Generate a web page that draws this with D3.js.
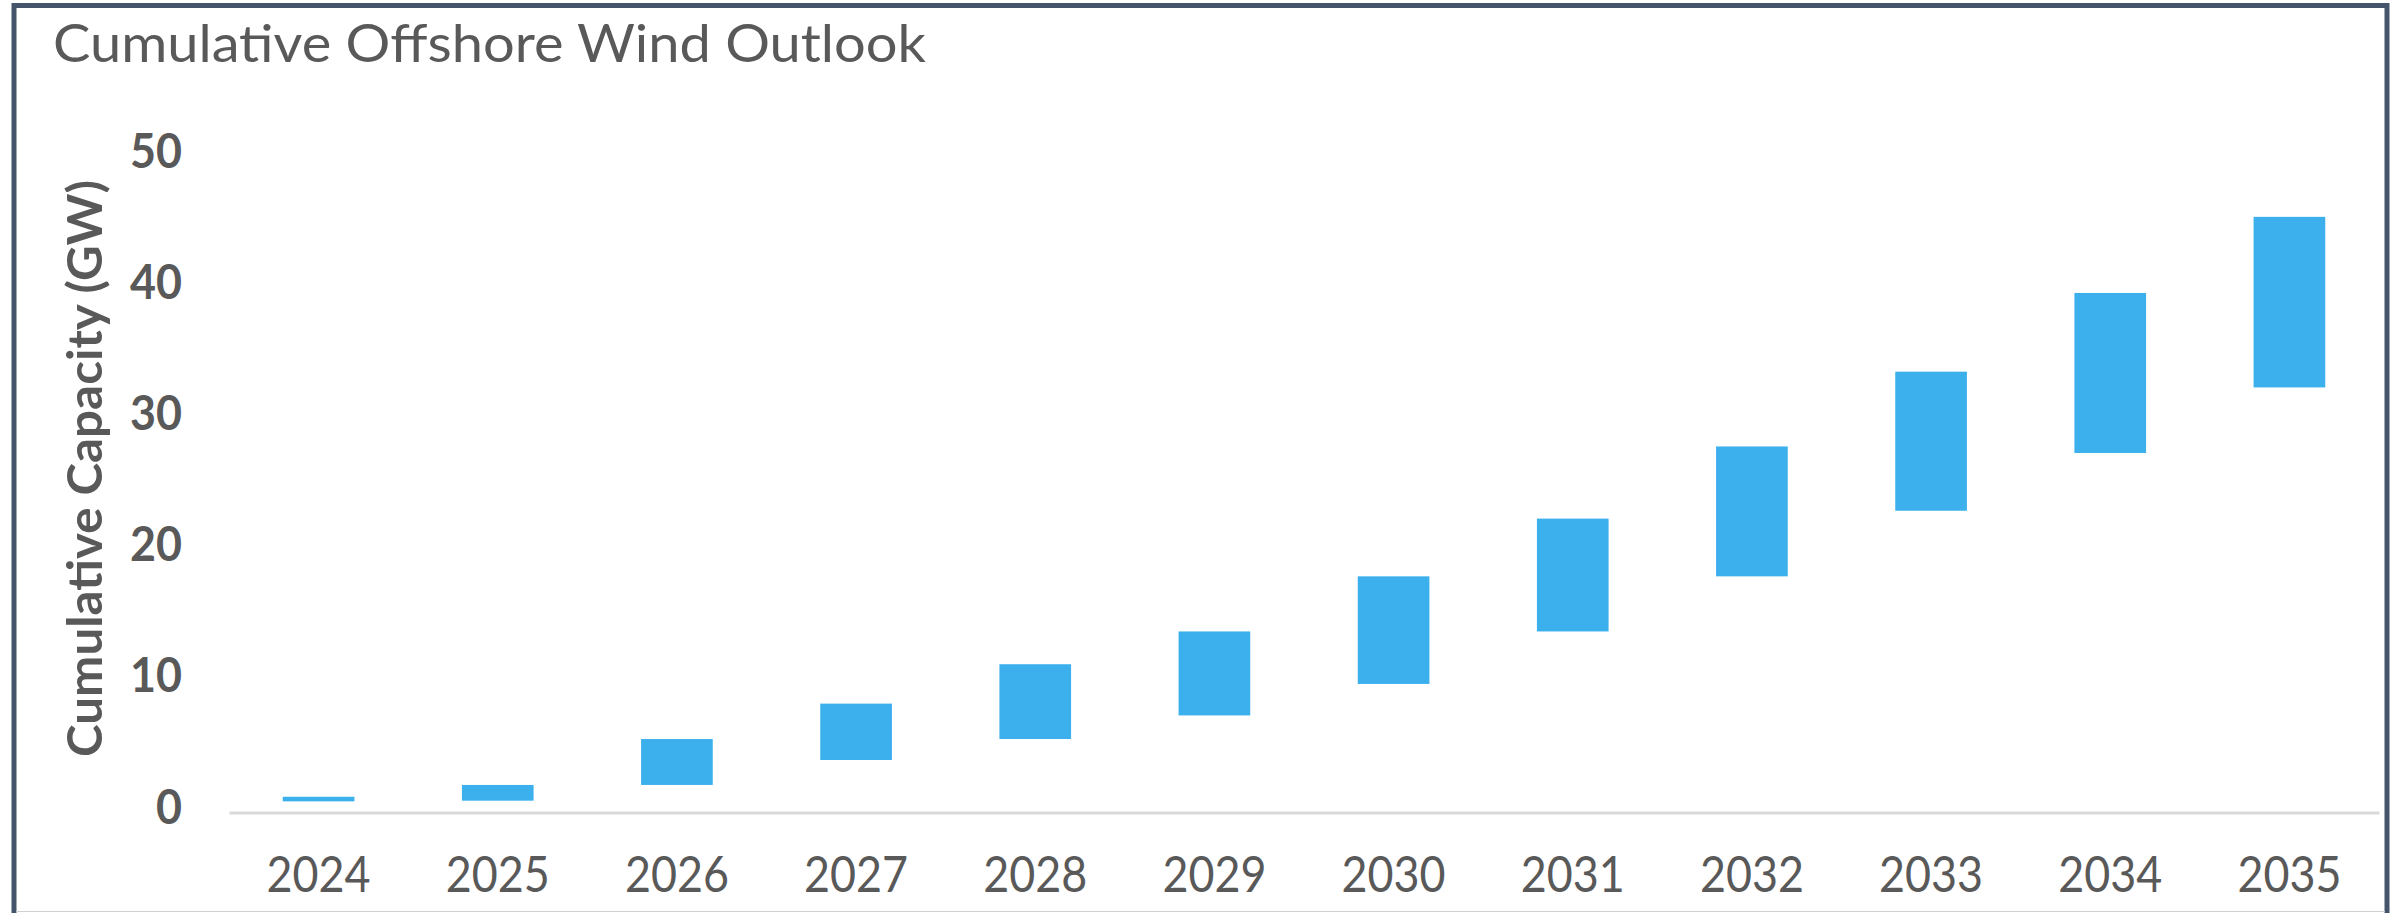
<!DOCTYPE html>
<html>
<head>
<meta charset="utf-8">
<script src="https://cdn.jsdelivr.net/npm/d3@7"></script>
<style>
  html, body { margin: 0; padding: 0; background: #ffffff; }
  svg { display: block; }
</style>
</head>
<body>
<div id="chart"></div>
<script>
// Data
const years = ["2024", "2025", "2026", "2027", "2028", "2029", "2030", "2031", "2032", "2033", "2034", "2035"];
const lowGW  = [0.85, 0.9, 2.1, 4.0, 5.6, 7.4, 9.8, 13.8, 18.0, 23.0, 27.4, 32.4];
const highGW = [1.2, 2.1, 5.6, 8.3, 11.3, 13.8, 18.0, 22.4, 27.9, 33.6, 39.6, 45.4];
const yTicks = [0, 10, 20, 30, 40, 50];

const W = 2397, H = 913;
const margin = {top: 156.5, right: 18, bottom: 100.5, left: 229};
const width = W - margin.left - margin.right,
      height = H - margin.top - margin.bottom;

const font = "Lato, 'Noto Sans', sans-serif";
const grey = "#595959";

const svg = d3.select("#chart")
  .append("svg")
    .attr("width", W)
    .attr("height", H);

// frame
svg.append("rect")
  .attr("x", 14).attr("y", 5.5)
  .attr("width", 2373).attr("height", 940)
  .attr("fill", "#ffffff")
  .attr("stroke", "#44546a")
  .attr("stroke-width", 5);

svg.append("line")
  .attr("x1", 16).attr("x2", 2385)
  .attr("y1", 911.5).attr("y2", 911.5)
  .attr("stroke", "#d0d0d0").attr("stroke-width", 1);

// title
svg.append("text")
  .attr("x", 53)
  .attr("y", 62)
  .attr("font-family", font)
  .attr("font-size", 53)
  .attr("fill", grey)
  .attr("textLength", 873)
  .attr("lengthAdjust", "spacingAndGlyphs")
  .text("Cumulative Offshore Wind Outlook");

const g = svg.append("g")
  .attr("transform", `translate(${margin.left},${margin.top})`);

const x = d3.scaleBand()
  .domain(years)
  .range([0, width])
  .paddingInner(0.6)
  .paddingOuter(0.3);

const y = d3.scaleLinear()
  .domain([0, 50])
  .range([height, 0]);

// y axis (labels only)
const yAxis = g.append("g")
  .call(d3.axisLeft(y).tickValues(yTicks).tickSize(0).tickPadding(47));
yAxis.select(".domain").remove();
yAxis.selectAll("text")
  .attr("font-family", font)
  .attr("font-size", 48)
  .attr("font-weight", "bold")
  .attr("fill", grey)
  .attr("dy", 0)
  .attr("y", 10.5)
  .each(function(d) {
    d3.select(this).attr("textLength", String(d).length * 26)
      .attr("lengthAdjust", "spacingAndGlyphs");
  });

// x axis with grey baseline
const xAxis = g.append("g")
  .attr("transform", `translate(0,${height})`)
  .call(d3.axisBottom(x).tickSize(0).tickSizeOuter(0));
xAxis.select(".domain")
  .attr("stroke", "#d9d9d9")
  .attr("stroke-width", 3);
xAxis.selectAll("text")
  .attr("font-family", font)
  .attr("font-size", 51)
  .attr("fill", grey)
  .attr("dy", 0)
  .attr("y", 79.5)
  .attr("textLength", 104)
  .attr("lengthAdjust", "spacingAndGlyphs");

// floating bars: low -> high
g.append("g")
  .selectAll("rect")
  .data(years)
  .join("rect")
    .attr("x", d => x(d))
    .attr("width", x.bandwidth())
    .attr("y", (d, i) => y(highGW[i]))
    .attr("height", (d, i) => y(lowGW[i]) - y(highGW[i]))
    .attr("fill", "#3bb0ec");

// y axis title
svg.append("text")
  .attr("transform", "translate(102,468.5) rotate(-90)")
  .attr("text-anchor", "middle")
  .attr("font-family", font)
  .attr("font-size", 47)
  .attr("font-weight", "bold")
  .attr("fill", grey)
  .attr("textLength", 577)
  .attr("lengthAdjust", "spacingAndGlyphs")
  .text("Cumulative Capacity (GW)");
</script>
</body>
</html>
